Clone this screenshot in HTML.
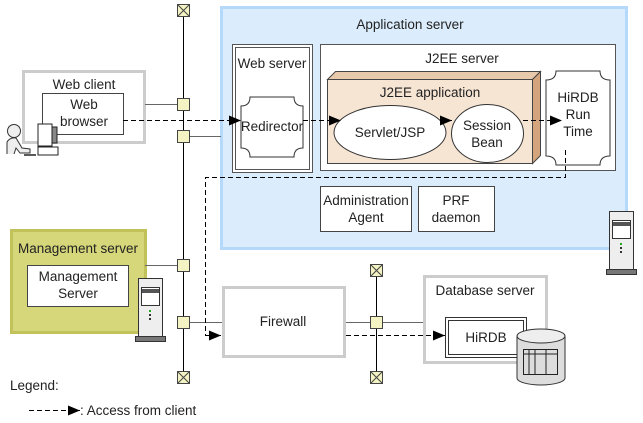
<!DOCTYPE html>
<html><head><meta charset="utf-8"><style>
html,body{margin:0;padding:0;background:#fff}
svg{display:block}
text{font-family:"Liberation Sans",Arial,sans-serif;font-size:13.5px;fill:#222}
</style></head><body>
<svg width="643" height="423" viewBox="0 0 643 423" xmlns="http://www.w3.org/2000/svg">
<defs>
<marker id="ar" markerWidth="12" markerHeight="10" refX="12" refY="5" orient="auto" markerUnits="userSpaceOnUse">
<path d="M0,0 L12,5 L0,10 z" fill="#000"/></marker>
</defs>
<rect x="221.5" y="7.5" width="405" height="241" fill="#dbedfd" stroke="#b4d9fb" stroke-width="3"/>
<text x="410" y="29" text-anchor="middle">Application server</text>
<rect x="232.5" y="44.5" width="80" height="128" fill="#fff" stroke="#555"/>
<rect x="235.5" y="47.5" width="74" height="122" fill="none" stroke="#555"/>
<text x="272" y="68" text-anchor="middle" font-size="12.5">Web server</text>
<path d="M250,97 L294,97 Q294,106 303,106 L303,148 Q294,148 294,157 L250,157 Q250,148 241,148 L241,106 Q250,106 250,97 z" fill="#fff" stroke="#333"/>
<text x="272" y="131" text-anchor="middle" font-size="12">Redirector</text>
<rect x="320.5" y="44.5" width="295" height="126" fill="#fff" stroke="#555"/>
<text x="462" y="63" text-anchor="middle">J2EE server</text>
<path d="M327.5,79.5 L335.5,71.5 L540.5,71.5 L532.5,79.5 z" fill="#e9c9ac" stroke="#444"/>
<path d="M532.5,79.5 L540.5,71.5 L540.5,155.5 L532.5,163.5 z" fill="#d4a47c" stroke="#444"/>
<rect x="327.5" y="79.5" width="205" height="84" fill="#f7e5d4" stroke="#444"/>
<text x="430" y="97" text-anchor="middle">J2EE application</text>
<ellipse cx="390" cy="132.5" rx="56" ry="27" fill="#fff" stroke="#333"/>
<text x="390" y="137" text-anchor="middle">Servlet/JSP</text>
<ellipse cx="487.5" cy="133.5" rx="36" ry="29" fill="#fff" stroke="#333"/>
<text x="487" y="130" text-anchor="middle">Session</text>
<text x="487" y="147" text-anchor="middle">Bean</text>
<path d="M556,71 L600,71 Q600,80 610,80 L610,156 Q600,156 600,165 L556,165 Q556,156 546,156 L546,80 Q556,80 556,71 z" fill="#fff" stroke="#333"/>
<text x="578" y="102" text-anchor="middle">HiRDB</text>
<text x="578" y="119" text-anchor="middle">Run</text>
<text x="578" y="136" text-anchor="middle">Time</text>
<rect x="320.5" y="186.5" width="91" height="45" fill="#fff" stroke="#444"/>
<text x="366" y="205" text-anchor="middle">Administration</text>
<text x="366" y="222" text-anchor="middle">Agent</text>
<rect x="418.5" y="186.5" width="76" height="45" fill="#fff" stroke="#444"/>
<text x="456" y="205" text-anchor="middle">PRF</text>
<text x="456" y="222" text-anchor="middle">daemon</text>
<rect x="23.5" y="71.5" width="121" height="71" fill="#fff" stroke="#ccc" stroke-width="3"/>
<text x="84" y="89" text-anchor="middle">Web client</text>
<rect x="42.5" y="93.5" width="81" height="41" fill="#fff" stroke="#444"/>
<text x="84" y="109" text-anchor="middle">Web</text>
<text x="84" y="126" text-anchor="middle">browser</text>
<circle cx="14" cy="131" r="6.5" fill="#eee" stroke="#333"/>
<path d="M7,154 L7,142 Q10,137 16,138 L22,148 L30,149 L30,153 L20,153 L16,148 L14,154" fill="#eee" stroke="#333"/>
<rect x="38" y="124" width="14" height="22" fill="#fff" stroke="#222"/>
<rect x="52" y="127" width="5" height="16" fill="#888" stroke="#222"/>
<rect x="38" y="147" width="20" height="8" fill="#fff" stroke="#222"/>
<line x1="24" y1="155" x2="36" y2="155" stroke="#222" stroke-width="1.5"/>
<rect x="11.5" y="230.5" width="134" height="102" fill="#d6d67a" stroke="#c2c25a" stroke-width="3"/>
<text x="78" y="253" text-anchor="middle">Management server</text>
<rect x="27.5" y="265.5" width="101" height="41" fill="#fff" stroke="#444"/>
<text x="78" y="281" text-anchor="middle">Management</text>
<text x="78" y="298" text-anchor="middle">Server</text>
<g id="srv">
<rect x="138.5" y="278.5" width="24" height="58" fill="#eee" stroke="#333"/>
<rect x="141.5" y="287.5" width="18" height="18" fill="#fff" stroke="#333"/>
<rect x="142" y="289" width="17" height="4" fill="#555"/>
<rect x="149" y="310" width="2" height="2" fill="#2a2"/>
<rect x="149" y="314" width="2" height="2" fill="#333"/>
<rect x="149" y="318" width="2" height="2" fill="#333"/>
<rect x="135.5" y="336.5" width="30" height="5" fill="#777" stroke="#333"/>
</g>
<use href="#srv" x="471" y="-67"/>
<rect x="223.5" y="287.5" width="121" height="69" fill="#fff" stroke="#ccc" stroke-width="3"/>
<text x="283" y="326" text-anchor="middle">Firewall</text>
<rect x="424.5" y="276.5" width="122" height="86" fill="#fff" stroke="#ccc" stroke-width="3"/>
<text x="485" y="295" text-anchor="middle">Database server</text>
<rect x="445.5" y="317.5" width="81" height="40" fill="#fff" stroke="#333"/>
<rect x="448.5" y="320.5" width="75" height="34" fill="none" stroke="#333"/>
<text x="486" y="342" text-anchor="middle">HiRDB</text>
<path d="M517,336 L517,378 A24,7 0 0 0 565,378 L565,336" fill="#ddd" stroke="#333"/>
<ellipse cx="541" cy="336" rx="24" ry="7" fill="#eee" stroke="#333"/>
<rect x="523.5" y="349.5" width="34" height="25" fill="#ddd" stroke="#222"/>
<line x1="523" y1="354" x2="558" y2="354" stroke="#222"/>
<line x1="529" y1="350" x2="529" y2="375" stroke="#222"/>
<line x1="535" y1="350" x2="535" y2="375" stroke="#222"/>
<line x1="546" y1="350" x2="546" y2="375" stroke="#222"/>
<line x1="183.5" y1="17" x2="183.5" y2="372" stroke="#000"/>
<line x1="376.5" y1="276" x2="376.5" y2="372" stroke="#000"/>
<line x1="145" y1="104.5" x2="183" y2="104.5" stroke="#666"/>
<line x1="183" y1="136.5" x2="221" y2="136.5" stroke="#666"/>
<line x1="145" y1="265.5" x2="183" y2="265.5" stroke="#666"/>
<line x1="183" y1="322.5" x2="222" y2="322.5" stroke="#666"/>
<line x1="346" y1="322.5" x2="423" y2="322.5" stroke="#666"/>
<g fill="#f4f3c4" stroke="#444">
<rect x="177.5" y="98.5" width="12" height="12"/>
<rect x="177.5" y="130.5" width="12" height="12"/>
<rect x="177.5" y="259.5" width="12" height="12"/>
<rect x="177.5" y="316.5" width="12" height="12"/>
<rect x="370.5" y="316.5" width="12" height="12"/>
</g>
<g fill="#f4f3c4" stroke="#444">
<rect x="177.5" y="4.5" width="12" height="12"/><path d="M177.5,4.5 L189.5,16.5 M189.5,4.5 L177.5,16.5"/>
<rect x="177.5" y="371.5" width="12" height="12"/><path d="M177.5,371.5 L189.5,383.5 M189.5,371.5 L177.5,383.5"/>
<rect x="370.5" y="264.5" width="12" height="12"/><path d="M370.5,264.5 L382.5,276.5 M382.5,264.5 L370.5,276.5"/>
<rect x="370.5" y="371.5" width="12" height="12"/><path d="M370.5,371.5 L382.5,383.5 M382.5,371.5 L370.5,383.5"/>
</g>
<g stroke="#000" stroke-dasharray="5,3" fill="none">
<line x1="123" y1="120.5" x2="241" y2="120.5" marker-end="url(#ar)"/>
<line x1="303" y1="120.5" x2="341" y2="120.5" marker-end="url(#ar)"/>
<line x1="440" y1="120.5" x2="452" y2="120.5" marker-end="url(#ar)"/>
<line x1="523" y1="120.5" x2="562" y2="120.5" marker-end="url(#ar)"/>
<path d="M565.5,150 L565.5,177.5 L205.5,177.5 L205.5,335.5 L221,335.5" marker-end="url(#ar)"/>
<line x1="346" y1="335.5" x2="445" y2="335.5" marker-end="url(#ar)"/>
<line x1="29" y1="410.5" x2="80" y2="410.5" marker-end="url(#ar)"/>
</g>
<text x="10" y="390">Legend:</text>
<text x="80" y="415">: Access from client</text>
</svg>
</body></html>
